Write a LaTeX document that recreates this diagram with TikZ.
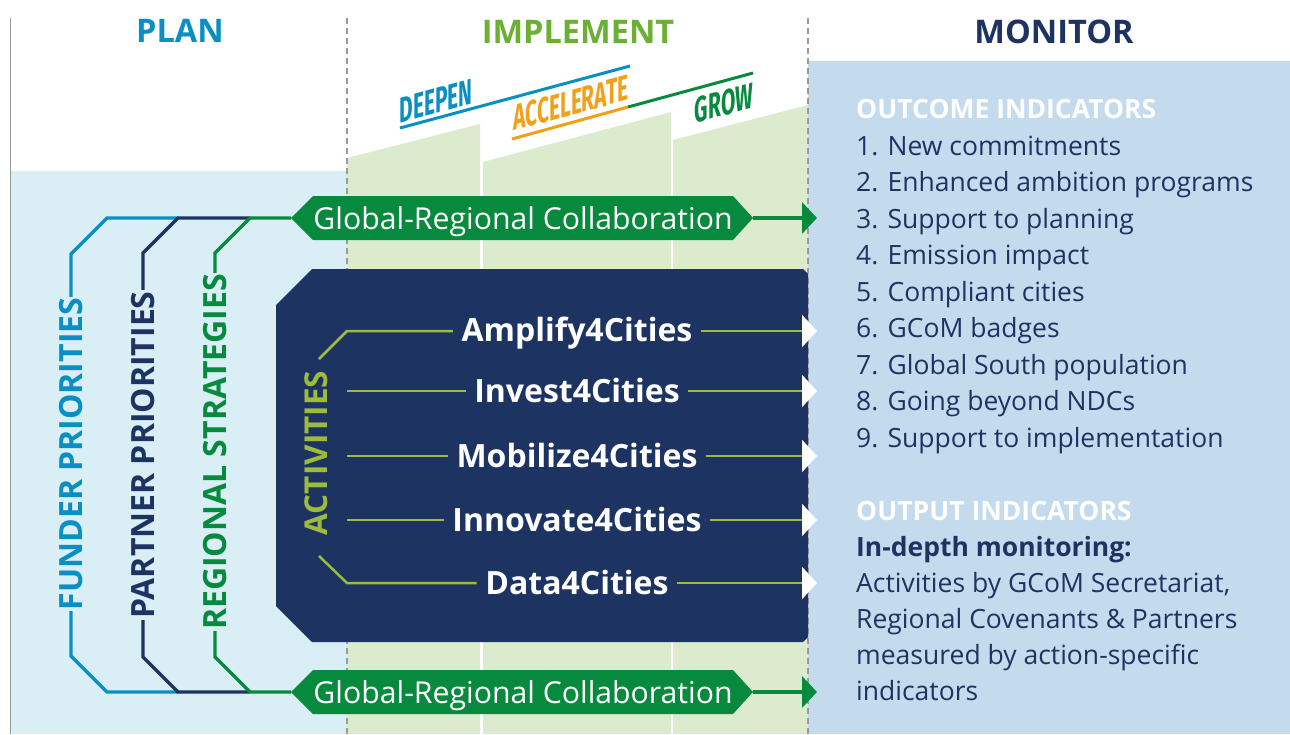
\documentclass[tikz,border=0pt]{standalone}
\usepackage{fontspec}
\usepackage{graphicx}
\setmainfont{Open Sans}
\newfontfamily\condfont{Fira Sans}
\usetikzlibrary{arrows.meta}
\definecolor{planblue}{HTML}{0A8FC4}
\definecolor{navy}{HTML}{1D3463}
\definecolor{gdark}{HTML}{078A3E}
\definecolor{implgreen}{HTML}{6BB033}
\definecolor{actgreen}{HTML}{9DBB3C}
\definecolor{planbg}{HTML}{D9EEF5}
\definecolor{implbg}{HTML}{DCEACE}
\definecolor{monbg}{HTML}{C4DBEE}
\definecolor{orng}{HTML}{F29F1A}
\definecolor{dashgray}{HTML}{9A9A9A}
\tikzset{
  head/.style={font=\fontsize{32.5}{32.5}\selectfont\bfseries, anchor=base},
  slant/.style={font=\condfont\fontsize{36}{36}\selectfont\bfseries, yslant=0.27},
  slantline/.style={line width=3pt},
  planlbl/.style={font=\fontsize{32}{32}\selectfont\bfseries, rotate=90, fill=planbg, inner xsep=1pt, inner ysep=2pt, text height=23pt, text depth=0pt},
  planline/.style={line width=3.2pt, line join=miter},
  bannertext/.style={font=\fontsize{30.2}{30.2}\selectfont, text=white, text height=22pt, text depth=0pt},
  gline/.style={draw=gdark, line width=4pt, -{Triangle[width=31pt,length=15pt]}},
  actline/.style={draw=actgreen, line width=2.5pt},
  actarrow/.style={draw=actgreen, line width=2.5pt, -{Triangle[width=32pt,length=15pt,color=white]}},
  acttext/.style={font=\fontsize{32}{32}\selectfont\bfseries, text=white, inner xsep=8.5pt, text height=23pt, text depth=0pt},
  moni/.style={font=\fontsize{26.5}{26.5}\selectfont, text=navy, anchor=base west},
  monhead/.style={font=\fontsize{26.5}{26.5}\selectfont\bfseries, text=white, anchor=base west},
}
\begin{document}
\begin{tikzpicture}[x=1pt,y=-1pt, every node/.style={inner sep=0pt}]
\useasboundingbox (0,0) rectangle (1290,734);
\fill[white] (0,0) rectangle (1290,734);
% backgrounds
\fill[planbg] (10,171) rectangle (347,734);
\fill[implbg] (347,158) -- (480,124) -- (480,734) -- (347,734) -- cycle;
\fill[implbg] (483,162) -- (671,112) -- (671,734) -- (483,734) -- cycle;
\fill[implbg] (673,140) -- (808,105) -- (808,734) -- (673,734) -- cycle;
\fill[monbg] (808,61) rectangle (1290,734);
% separators
\draw[dashgray, line width=1pt] (10,18) -- (10,734);
\draw[dashgray, line width=1.2pt, dash pattern=on 6pt off 4pt] (347,18) -- (347,734);
\draw[dashgray, line width=1.2pt, dash pattern=on 6pt off 4pt] (808,18) -- (808,734);
% headings
\node[head, text=planblue] (hplan) at (180,42) {PLAN};
\node[head, text=implgreen] (himpl) at (578,43) {IMPLEMENT};
\node[head, text=navy] (hmon) at (1054,43) {MONITOR};
% slanted phases
\draw[slantline, planblue] (400,128) -- (630,66);
\draw[slantline, orng] (512,139) -- (628,107);
\draw[slantline, gdark] (628,107) -- (753,73);
\node[slant, text=planblue] (deepen) at (436,101) {\scalebox{0.58}[1]{DEEPEN}};
\node[slant, text=orng] (accel) at (571,103) {\scalebox{0.58}[1]{ACCELERATE}};
\node[slant, text=gdark] (grow) at (724,103) {\scalebox{0.58}[1]{GROW}};
% plan connector coordinates
\coordinate (tg) at (291,218); \coordinate (bg) at (291,692);
\coordinate (tjn) at (250,218); \coordinate (tjb) at (178,218);
\coordinate (bjn) at (250,692); \coordinate (bjb) at (178,692);
% plan lines
\draw[planline, planblue] (tjb) -- (107,218) -- (71,254) -- (71,656) -- (107,692) -- (bjb);
\draw[planline, navy] (tjn) -- (tjb) -- (143,253) -- (143,657) -- (bjb) -- (bjn);
\draw[planline, gdark] (tg) -- (tjn) -- (215,253) -- (215,657) -- (bjn) -- (bg);
\node[planlbl, text=planblue] (funder) at (71,454) {FUNDER PRIORITIES};
\node[planlbl, text=navy] (partner) at (143,455) {PARTNER PRIORITIES};
\node[planlbl, text=gdark] (regional) at (215,452) {REGIONAL STRATEGIES};
% banners
\fill[gdark] (tg) -- (313,196) -- (733,196) -- (753,218) -- (733,240) -- (313,240) -- cycle;
\fill[gdark] (bg) -- (313,670) -- (733,670) -- (753,692) -- (733,714) -- (313,714) -- cycle;
\node[bannertext] (btop) at (523,218) {Global-Regional Collaboration};
\node[bannertext] (bbot) at (523,692) {Global-Regional Collaboration};
\coordinate (btopR) at (753,218); \coordinate (bbotR) at (753,692);
\coordinate (atop) at (817,218); \coordinate (abot) at (817,692);
\draw[gline] (btopR) -- (atop);
\draw[gline] (bbotR) -- (abot);
% activities box
\fill[navy] (312,269) -- (803,269) -- (808,274) -- (808,637) -- (803,642) -- (312,642) -- (276,606) -- (276,305) -- cycle;
\node[font=\fontsize{31.5}{31.5}\selectfont\bfseries, text=actgreen, rotate=90, text height=23pt, text depth=0pt] (activities) at (316,453) {ACTIVITIES};
\node[acttext] (t1) at (577,330) {Amplify4Cities};
\node[acttext] (t2) at (577,391) {Invest4Cities};
\node[acttext] (t3) at (577,456) {Mobilize4Cities};
\node[acttext] (t4) at (577,520) {Innovate4Cities};
\node[acttext] (t5) at (577,583) {Data4Cities};
\coordinate (d1) at (319,359); \coordinate (k1) at (347,331);
\coordinate (d5) at (319,556); \coordinate (k5) at (347,583);
\draw[actline] (d1) -- (k1) -- (t1.west |- k1);
\draw[actline] (347,391) -- (t2.west |- 0,391);
\draw[actline] (347,456) -- (t3.west |- 0,456);
\draw[actline] (347,520) -- (t4.west |- 0,520);
\draw[actline] (d5) -- (k5) -- (t5.west |- k5);
\coordinate (e1) at (817,331); \coordinate (e2) at (817,391); \coordinate (e3) at (817,456);
\coordinate (e4) at (817,520); \coordinate (e5) at (817,583);
\draw[actarrow] (t1.east |- e1) -- (e1);
\draw[actarrow] (t2.east |- e2) -- (e2);
\draw[actarrow] (t3.east |- e3) -- (e3);
\draw[actarrow] (t4.east |- e4) -- (e4);
\draw[actarrow] (t5.east |- e5) -- (e5);
% monitor texts
\node[monhead] (outc) at (856,118) {OUTCOME INDICATORS};
\node[moni] (m1) at (856,155) {1. New commitments};
\node[moni] (m2) at (856,191.5) {2. Enhanced ambition programs};
\node[moni] (m3) at (856,228) {3. Support to planning};
\node[moni] (m4) at (856,264.5) {4. Emission impact};
\node[moni] (m5) at (856,301) {5. Compliant cities};
\node[moni] (m6) at (856,337.5) {6. GCoM badges};
\node[moni] (m7) at (856,374) {7. Global South population};
\node[moni] (m8) at (856,410.5) {8. Going beyond NDCs};
\node[moni] (m9) at (856,447) {9. Support to implementation};
\node[monhead] (outp) at (856,520) {OUTPUT INDICATORS};
\node[moni, font=\fontsize{26.5}{26.5}\selectfont\bfseries] (indepth) at (856,556) {In-depth monitoring:};
\node[moni] (o1) at (856,592) {Activities by GCoM Secretariat,};
\node[moni] (o2) at (856,628) {Regional Covenants \& Partners};
\node[moni] (o3) at (856,664) {measured by action-specific};
\node[moni] (o4) at (856,700) {indicators};
\end{tikzpicture}
\end{document}
